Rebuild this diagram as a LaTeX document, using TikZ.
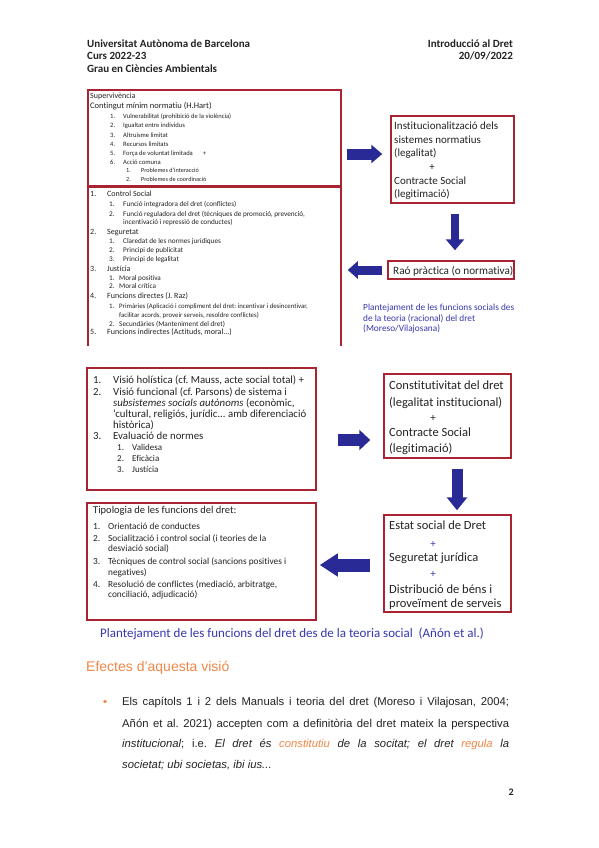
\documentclass[tikz,border=0pt]{standalone}
\usepackage{fontspec}
\setmainfont{Carlito}[Ligatures={TeX,NoCommon}]
\newfontfamily\arialf{Liberation Sans}
\usetikzlibrary{arrows.meta}
\definecolor{boxred}{RGB}{170,35,50}
\definecolor{arrblue}{RGB}{42,42,150}
\definecolor{capblue}{RGB}{55,55,175}
\definecolor{orng}{RGB}{240,135,70}
\definecolor{txt}{RGB}{35,35,35}
\newcommand\fsz[1]{\fontsize{#1pt}{#1pt}\selectfont}
\frenchspacing
\begin{document}
\begin{tikzpicture}[x=1pt,y=-1pt,
  box/.style={draw=boxred, line width=1.5pt, inner sep=0pt},
  tl/.style={anchor=base west, inner sep=0pt, text=txt},
  tr/.style={anchor=base east, inner sep=0pt, text=txt},
  tc/.style={anchor=base, inner sep=0pt, text=txt},
  blk/.style={draw=arrblue, line width=#1}
]
\useasboundingbox (0,0) rectangle (599,848);
\fill[white] (0,0) rectangle (599,848);

% header
\node[tl, font=\bfseries\fsz{11}] (h1) at (87,47.5) {Universitat Autònoma de Barcelona};
\node[tl, font=\bfseries\fsz{11}] (h2) at (87,60) {Curs 2022-23};
\node[tl, font=\bfseries\fsz{11}] (h3) at (87,73) {Grau en Ciències Ambientals};
\node[tr, font=\bfseries\fsz{11}] (h4) at (513,47.5) {Introducció al Dret};
\node[tr, font=\bfseries\fsz{11}] (h5) at (513,60) {20/09/2022};

% ===== top diagram =====
\node[box, minimum width=253pt, minimum height=96pt] (sup) at (214.5,138) {};
\node[inner sep=0pt, minimum width=253pt, minimum height=159pt] (fun) at (214.5,266.5) {};
\draw[boxred, line width=1.5pt] (fun.south west) -- (fun.north west) -- (fun.north east) -- (fun.south east);

\node[tl, font=\fsz{8}] (s1) at (90,99) {Supervivència};
\node[tl, font=\fsz{8.5}] (s2) at (90,109) {Contingut mínim normatiu (H.Hart)};
\node[tl, font=\fsz{6.6}] (s3n) at (110,118.5) {1.};
\node[tl, font=\fsz{6.6}] (s3) at (123,118.5) {Vulnerabilitat (prohibició de la violència)};
\node[tl, font=\fsz{6.6}] (s4n) at (110,128) {2.};
\node[tl, font=\fsz{6.6}] (s4) at (123,128) {Igualtat entre individus};
\node[tl, font=\fsz{6.6}] (s5n) at (110,137.5) {3.};
\node[tl, font=\fsz{6.6}] (s5) at (123,137.5) {Altruisme limitat};
\node[tl, font=\fsz{6.6}] (s6n) at (110,146.5) {4.};
\node[tl, font=\fsz{6.6}] (s6) at (123,146.5) {Recursos limitats};
\node[tl, font=\fsz{6.6}] (s7n) at (110,155) {5.};
\node[tl, font=\fsz{6.6}] (s7) at (123,155) {Força de voluntat limitada\hspace{10pt}+};
\node[tl, font=\fsz{6.6}] (s8n) at (110,164) {6.};
\node[tl, font=\fsz{6.6}] (s8) at (123,164) {Acció comuna};
\node[tl, font=\fsz{6.2}] (s9n) at (126,172.5) {1.};
\node[tl, font=\fsz{6.2}] (s9) at (141,172.5) {Problemes d’interacció};
\node[tl, font=\fsz{6.2}] (s10n) at (126,181) {2.};
\node[tl, font=\fsz{6.2}] (s10) at (141,181) {Problemes de coordinació};

\node[tl, font=\fsz{8}] (f1n) at (90,196) {1.};
\node[tl, font=\fsz{8}] (f1) at (107,196) {Control Social};
\node[tl, font=\fsz{7.2}] (f2n) at (109,206) {1.};
\node[tl, font=\fsz{7.2}] (f2) at (123,206) {Funció integradora del dret (conflictes)};
\node[tl, font=\fsz{7.2}] (f3n) at (109,216) {2.};
\node[tl, font=\fsz{7.2}] (f3) at (123,216) {Funció reguladora del dret (tècniques de promoció, prevenció,};
\node[tl, font=\fsz{7.2}] (f4) at (123,224.5) {incentivació i repressió de conductes)};
\node[tl, font=\fsz{8}] (f5n) at (90,234.5) {2.};
\node[tl, font=\fsz{8}] (f5) at (107,234.5) {Seguretat};
\node[tl, font=\fsz{7.2}] (f6n) at (109,243.8) {1.};
\node[tl, font=\fsz{7.2}] (f6) at (123,243.8) {Claredat de les normes jurídiques};
\node[tl, font=\fsz{7.2}] (f7n) at (109,252.8) {2.};
\node[tl, font=\fsz{7.2}] (f7) at (123,252.8) {Principi de publicitat};
\node[tl, font=\fsz{7.2}] (f8n) at (109,261.8) {3.};
\node[tl, font=\fsz{7.2}] (f8) at (123,261.8) {Principi de legalitat};
\node[tl, font=\fsz{8}] (f9n) at (90,271.2) {3.};
\node[tl, font=\fsz{8}] (f9) at (107,271.2) {Justícia};
\node[tl, font=\fsz{7.2}] (f10n) at (109,280.5) {1.};
\node[tl, font=\fsz{7.2}] (f10) at (119,280.5) {Moral positiva};
\node[tl, font=\fsz{7.2}] (f11n) at (109,288.8) {2.};
\node[tl, font=\fsz{7.2}] (f11) at (119,288.8) {Moral crítica};
\node[tl, font=\fsz{8}] (f12n) at (90,298) {4.};
\node[tl, font=\fsz{8}] (f12) at (107,298) {Funcions directes (J. Raz)};
\node[tl, font=\fsz{6.8}] (f13n) at (109,308.5) {1.};
\node[tl, font=\fsz{6.8}] (f13) at (119,308.5) {Primàries (Aplicació i compliment del dret: incentivar i desincentivar,};
\node[tl, font=\fsz{6.8}] (f14) at (119,317.8) {facilitar acords, proveir serveis, resoldre conflictes)};
\node[tl, font=\fsz{7.2}] (f15n) at (109,326) {2.};
\node[tl, font=\fsz{7.2}] (f15) at (119,326) {Secundàries (Manteniment del dret)};
\node[tl, font=\fsz{8}] (f16n) at (90,334.7) {5.};
\node[tl, font=\fsz{8}] (f16) at (107,334.7) {Funcions indirectes (Actituds, moral...)};

\node[box, minimum width=123pt, minimum height=87pt] (inst) at (452.5,159.5) {};
\node[tl, font=\fsz{11}] (i1) at (394,130) {Institucionalització dels};
\node[tl, font=\fsz{11}] (i2) at (394,143) {sistemes normatius};
\node[tl, font=\fsz{11}] (i3) at (394,156.5) {(legalitat)};
\node[tc, font=\fsz{11}] (i4) at (432,170.5) {+};
\node[tl, font=\fsz{11}] (i5) at (394,184) {Contracte Social};
\node[tl, font=\fsz{11}] (i6) at (394,197) {(legitimació)};

\node[box, minimum width=126pt, minimum height=18pt] (rao) at (451,270) {};
\node[tl, font=\fsz{11.2}] (r1) at (393,274) {Raó pràctica (o normativa)};

\node[tl, font=\fsz{9.3}, text=capblue] (c1) at (363,310) {Plantejament de les funcions socials des};
\node[tl, font=\fsz{9.3}, text=capblue] (c2) at (363,321) {de la teoria (racional) del dret};
\node[tl, font=\fsz{9.3}, text=capblue] (c3) at (363,331.5) {(Moreso/Vilajosana)};

\coordinate (a1s) at (sup.east |- 0,154);
\coordinate (a1e) at (inst.west |- 0,154);
\draw[blk=11pt, -{Triangle[length=11pt,width=18pt]}, shorten <=5pt, shorten >=8pt] (a1s) -- (a1e);
\coordinate (a2s) at (455,0 |- inst.south);
\coordinate (a2e) at (455,0 |- rao.north);
\draw[blk=8pt, -{Triangle[length=11pt,width=18pt]}, shorten <=10pt, shorten >=10pt] (a2s) -- (a2e);
\draw[blk=9pt, -{Triangle[length=10pt,width=17pt]}, shorten <=5pt, shorten >=6pt] (rao.west) -- (sup.east |- rao.west);

% ===== middle diagram =====
\node[box, minimum width=229pt, minimum height=122pt] (hol) at (201.5,429) {};
\node[tl, font=\fsz{10.8}] (m1n) at (93,383.5) {1.};
\node[tl, font=\fsz{10.8}] (m1) at (113,383.5) {Visió holística (cf. Mauss, acte social total) +};
\node[tl, font=\fsz{10.8}] (m2n) at (93,395.5) {2.};
\node[tl, font=\fsz{10.8}] (m2) at (113,395.5) {Visió funcional (cf. Parsons) de sistema i};
\node[tl, font=\fsz{10.8}] (m3) at (113,406.5) {\itshape subsistemes socials autònoms\upshape\ (econòmic,};
\node[tl, font=\fsz{10.8}] (m4) at (113,417.5) {‘cultural, religiós, jurídic... amb diferenciació};
\node[tl, font=\fsz{10.8}] (m5) at (113,428.5) {històrica)};
\node[tl, font=\fsz{10.8}] (m6n) at (93,439.5) {3.};
\node[tl, font=\fsz{10.8}] (m6) at (113,439.5) {Evaluació de normes};
\node[tl, font=\fsz{9}] (m7n) at (117,450) {1.};
\node[tl, font=\fsz{9}] (m7) at (132,450) {Validesa};
\node[tl, font=\fsz{9}] (m8n) at (117,461) {2.};
\node[tl, font=\fsz{9}] (m8) at (132,461) {Eficàcia};
\node[tl, font=\fsz{9}] (m9n) at (117,472) {3.};
\node[tl, font=\fsz{9}] (m9) at (132,472) {Justícia};

\node[box, minimum width=229pt, minimum height=117pt] (tip) at (201.5,561.5) {};
\node[tl, font=\fsz{10.5}] (t0) at (93,513.5) {Tipologia de les funcions del dret:};
\node[tl, font=\fsz{9.3}] (t1n) at (93,529.5) {1.};
\node[tl, font=\fsz{9.3}] (t1) at (108,529.5) {Orientació de conductes};
\node[tl, font=\fsz{9.3}] (t2n) at (93,541.5) {2.};
\node[tl, font=\fsz{9.3}] (t2) at (108,541.5) {Socialització i control social (i teories de la};
\node[tl, font=\fsz{9.3}] (t3) at (108,551.5) {desviació social)};
\node[tl, font=\fsz{9.3}] (t4n) at (93,564.5) {3.};
\node[tl, font=\fsz{9.3}] (t4) at (108,564.5) {Tècniques de control social (sancions positives i};
\node[tl, font=\fsz{9.3}] (t5) at (108,575.5) {negatives)};
\node[tl, font=\fsz{9.3}] (t6n) at (93,587.5) {4.};
\node[tl, font=\fsz{9.3}] (t6) at (108,587.5) {Resolució de conflictes (mediació, arbitratge,};
\node[tl, font=\fsz{9.3}] (t7) at (108,597.5) {conciliació, adjudicació)};

\node[box, minimum width=127pt, minimum height=84pt] (con) at (447.5,416) {};
\node[tl, font=\fsz{12.5}] (k1) at (389,389.5) {Constitutivitat del dret};
\node[tl, font=\fsz{12.5}] (k2) at (389,406.5) {(legalitat institucional)};
\node[tc, font=\fsz{11}] (k3) at (433,421) {+};
\node[tl, font=\fsz{12.5}] (k4) at (389,436.5) {Contracte Social};
\node[tl, font=\fsz{12.5}] (k5) at (389,452.5) {(legitimació)};

\node[box, minimum width=127pt, minimum height=97pt] (est) at (447.5,563.5) {};
\node[tl, font=\fsz{12.5}] (e1) at (389,529.5) {Estat social de Dret};
\node[tc, font=\fsz{11}, text=capblue] (e2) at (433,547) {+};
\node[tl, font=\fsz{12.5}] (e3) at (389,561.5) {Seguretat jurídica};
\node[tc, font=\fsz{11}, text=capblue] (e4) at (433,577) {+};
\node[tl, font=\fsz{12.5}] (e5) at (389,593.5) {Distribució de béns i};
\node[tl, font=\fsz{12.5}] (e6) at (389,607.5) {proveïment de serveis};

\draw[blk=12pt, -{Triangle[length=11pt,width=20pt]}, shorten <=21pt, shorten >=13pt] (hol.east |- 0,440) -- (con.west |- 0,440);
\draw[blk=11pt, -{Triangle[length=13pt,width=20pt]}, shorten <=10pt, shorten >=4pt] (457,0 |- con.south) -- (457,0 |- est.north);
\draw[blk=13pt, -{Triangle[length=18pt,width=22pt]}, shorten <=13pt, shorten >=3pt] (est.west |- 0,565) -- (tip.east |- 0,565);

\node[tl, font=\fsz{13}, text=capblue] (cap2) at (100,637.5) {Plantejament de les funcions del dret des de la teoria social\ \ (Añón et al.)};

% ===== bottom text =====
\node[tl, font=\arialf\fsz{14}, text=orng] (eff) at (86,671) {Efectes d’aquesta visió};
\node[circle, fill=orng, inner sep=0pt, minimum size=3.8pt] (bul) at (105,701.5) {};
\node[tl, font=\arialf\fsz{11.3}] (p1) at (122,705.5) {\makebox[387pt][s]{Els capítols 1 i 2 dels Manuals i teoria del dret (Moreso i Vilajosan, 2004;}};
\node[tl, font=\arialf\fsz{11.3}] (p2) at (122,727) {\makebox[387pt][s]{Añón et al. 2021) accepten com a definitòria del dret mateix la perspectiva}};
\node[tl, font=\arialf\fsz{11.3}] (p3) at (122,747.5) {\makebox[387pt][s]{\itshape institucional\upshape; i.e. \itshape El dret és \textcolor{orng}{constitutiu} de la socitat; el dret \textcolor{orng}{regula} la}};
\node[tl, font=\arialf\fsz{11.3}] (p4) at (122,768) {\itshape societat; ubi societas, ibi ius...};
\node[tr, font=\bfseries\fsz{10}] (pg) at (514,795.5) {2};
\end{tikzpicture}
\end{document}
